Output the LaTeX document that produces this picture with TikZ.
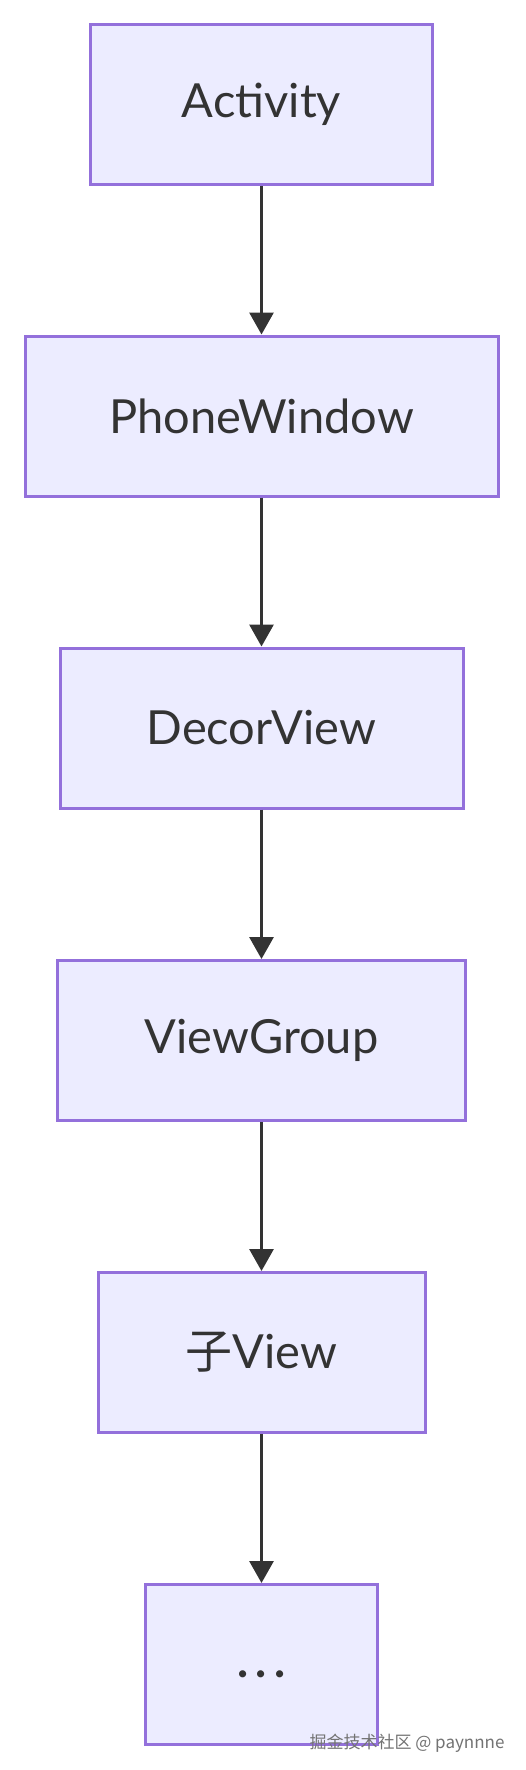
\documentclass[tikz,border=0pt]{standalone}
\usepackage{fontspec}
\setmainfont{Lato}
\newfontfamily\cjk{Noto Sans CJK SC}
\usetikzlibrary{arrows.meta}
\definecolor{boxfill}{HTML}{ECECFF}
\definecolor{boxline}{HTML}{9370DB}
\definecolor{ink}{HTML}{333333}
\begin{document}
\begin{tikzpicture}[x=1pt,y=-1pt,
  flowbox/.style={draw=boxline, fill=boxfill, line width=3pt, inner sep=0pt,
    minimum height=160pt, text=ink, font=\fontsize{47}{50}\selectfont},
  link/.style={draw=ink, line width=3pt, -{Triangle[width=24pt,length=22pt]}}]
\fill[white] (0,0) rectangle (525,1770);
\node[flowbox, minimum width=342pt] (a) at (261.5,104.5) {Activity};
\node[flowbox, minimum width=473pt] (b) at (261.5,416) {PhoneWindow};
\node[flowbox, minimum width=403pt] (c) at (261.5,728) {DecorView};
\node[flowbox, minimum width=408pt] (d) at (261.5,1040.5) {ViewGroup};
\node[flowbox, minimum width=327pt] (e) at (261.5,1352.5) {{\cjk 子}View};
\node[flowbox, minimum width=232pt] (f) at (261.5,1664.5) {\vphantom{Ay}\textbf{.\kern7.5pt.\kern7.5pt.}};
\draw[link] (a) -- (b);
\draw[link] (b) -- (c);
\draw[link] (c) -- (d);
\draw[link] (d) -- (e);
\draw[link] (e) -- (f);
\node[text=black!55, font=\cjk\fontsize{17}{20}\selectfont, anchor=east] (wm) at (508,1743) {掘金技术社区 @ paynnne};
\end{tikzpicture}
\end{document}
